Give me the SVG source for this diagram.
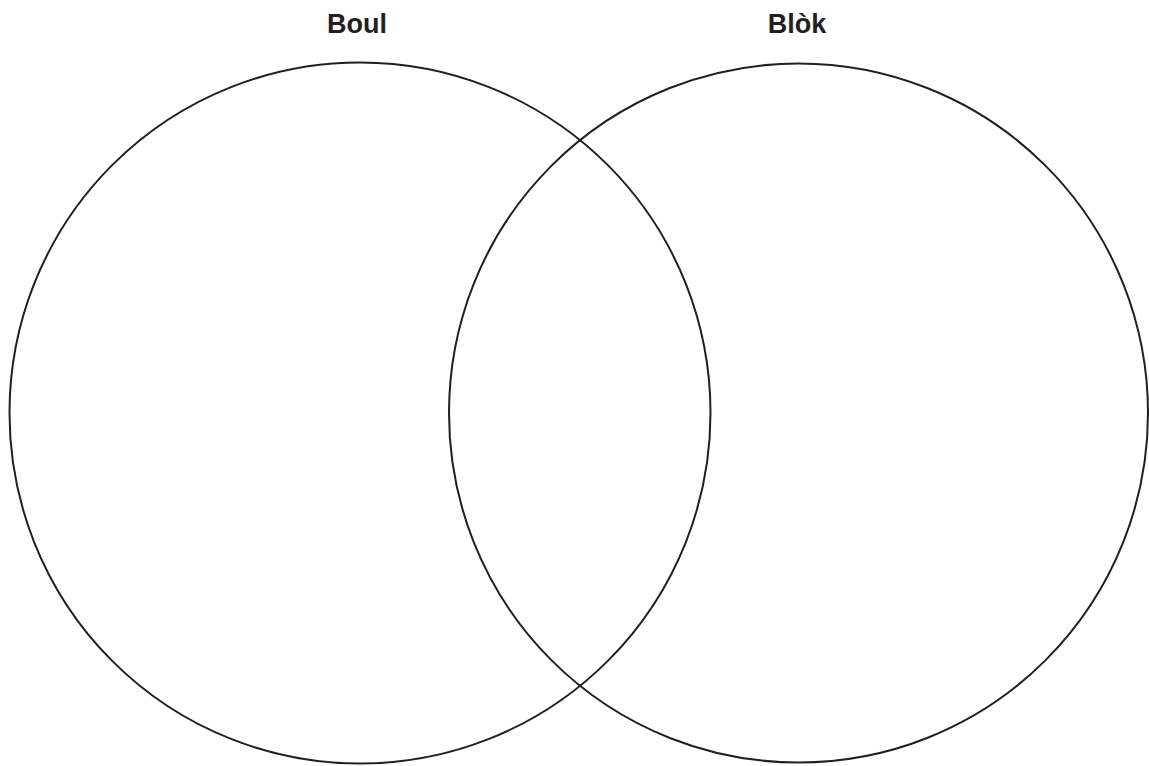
<svg xmlns="http://www.w3.org/2000/svg" width="1149" height="766" viewBox="0 0 1149 766">
<style>
.c{fill:none;stroke:#231f20;stroke-width:2}
.t{font-family:"Liberation Sans",Arial,sans-serif;font-weight:bold;font-size:27px;fill:#231f20;text-anchor:middle}
</style>
<rect width="1149" height="766" fill="#fff"/>
<g id="boul">
<circle class="c" cx="360" cy="413" r="350.5"/>
<text class="t" x="357" y="33">Boul</text>
</g>
<g id="blok">
<circle class="c" cx="798.5" cy="413" r="349.5"/>
<text class="t" x="797" y="33">Blòk</text>
</g>
<g id="connectors"/>
</svg>
